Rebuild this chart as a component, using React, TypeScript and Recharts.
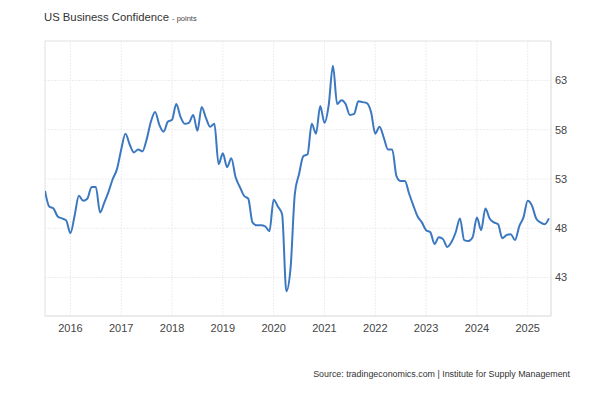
import { LineChart, Line, XAxis, YAxis, CartesianGrid, ReferenceArea } from 'recharts';

// monthly readings, Jul 2015 .. Jun 2025
const values2015 = [51.8, 50.2, 50.0, 49.2, 49.0, 48.8];
const values2016 = [47.5, 49.3, 51.3, 50.8, 51.0, 52.2, 52.2, 49.6, 50.6, 51.7, 53.0, 54.0];
const values2017 = [56.0, 57.6, 56.5, 55.7, 56.0, 55.8, 57.0, 58.8, 59.8, 58.5, 57.8, 58.8];
const values2018 = [59.0, 60.6, 59.3, 58.6, 58.7, 59.5, 57.9, 60.3, 59.2, 58.3, 58.6, 54.5];
const values2019 = [55.6, 54.2, 55.1, 53.2, 52.2, 51.3, 51.0, 48.6, 48.3, 48.3, 48.2, 47.7];
const values2020 = [50.9, 50.2, 49.4, 41.6, 44.0, 51.5, 53.5, 55.3, 55.5, 58.6, 57.6, 60.4];
const values2021 = [58.7, 60.5, 64.5, 60.6, 61.0, 60.6, 59.5, 59.6, 60.9, 60.8, 60.7, 59.8];
const values2022 = [57.6, 58.3, 57.2, 56.0, 56.0, 53.3, 52.8, 52.8, 51.5, 50.3, 49.2, 48.6];
const values2023 = [47.8, 47.6, 46.4, 47.1, 46.9, 46.1, 46.6, 47.6, 49.0, 46.8, 46.7, 47.1];
const values2024 = [49.1, 47.8, 50.0, 49.0, 48.6, 48.4, 47.0, 47.3, 47.4, 46.8, 48.2, 49.1];
const values2025 = [50.8, 50.3, 49.0, 48.6, 48.4, 49.0];

const yearLabels = ['2016', '2017', '2018', '2019', '2020', '2021', '2022', '2023', '2024', '2025'];
const yTicks = [43, 48, 53, 58, 63];

const allValues = [
  ...values2015, ...values2016, ...values2017, ...values2018, ...values2019, ...values2020,
  ...values2021, ...values2022, ...values2023, ...values2024, ...values2025,
];
const data = allValues.map((v, i) => ({ idx: i, value: v }));
// index 6 is Jan 2016
const yearTicks = yearLabels.map((_, i) => 6 + i * 12);

const X_MAX = 119.5;
const Y_MIN = 39.1;
const Y_MAX = 67;
const font = 'Liberation Sans, Arial, sans-serif';

export default function App() {
  return (
    <div style={{ position: 'absolute', left: 0, top: 0, width: 597, height: 396, background: '#fff', fontFamily: font }}>
      <div style={{ position: 'absolute', left: 44, top: 11, fontSize: 11.3, color: '#333', whiteSpace: 'nowrap' }}>
        US Business Confidence <span style={{ fontSize: 7.5, color: '#444' }}>- points</span>
      </div>
      <LineChart width={597} height={396} data={data} margin={{ top: 41, right: 6, bottom: 50, left: 45 }}>
        <CartesianGrid stroke="#ededed" strokeDasharray="2 1" />
        <ReferenceArea x1={0} x2={X_MAX} y1={Y_MIN} y2={Y_MAX} fill="none" stroke="#e6e6e6" strokeWidth={1} />
        <XAxis
          dataKey="idx"
          type="number"
          domain={[0, X_MAX]}
          ticks={yearTicks}
          tickFormatter={(v: number) => yearLabels[(v - 6) / 12]}
          height={30}
          axisLine={{ stroke: '#e6e6e6' }}
          tickLine={false}
          tickSize={4}
          tickMargin={4}
          tick={{ fill: '#444', fontSize: 11, fontFamily: font }}
          allowDataOverflow
        />
        <YAxis
          orientation="right"
          type="number"
          domain={[Y_MIN, Y_MAX]}
          ticks={yTicks}
          width={40}
          axisLine={{ stroke: '#e6e6e6' }}
          tickLine={false}
          tickSize={2}
          tickMargin={2}
          tick={{ fill: '#444', fontSize: 11, fontFamily: font }}
          allowDataOverflow
        />
        <Line
          type="monotone"
          dataKey="value"
          stroke="#3c78c0"
          strokeWidth={2}
          dot={false}
          isAnimationActive={false}
        />
      </LineChart>
      <div style={{ position: 'absolute', right: 27, top: 369, fontSize: 8.9, color: '#333', whiteSpace: 'nowrap' }}>
        Source: tradingeconomics.com | Institute for Supply Management
      </div>
    </div>
  );
}
